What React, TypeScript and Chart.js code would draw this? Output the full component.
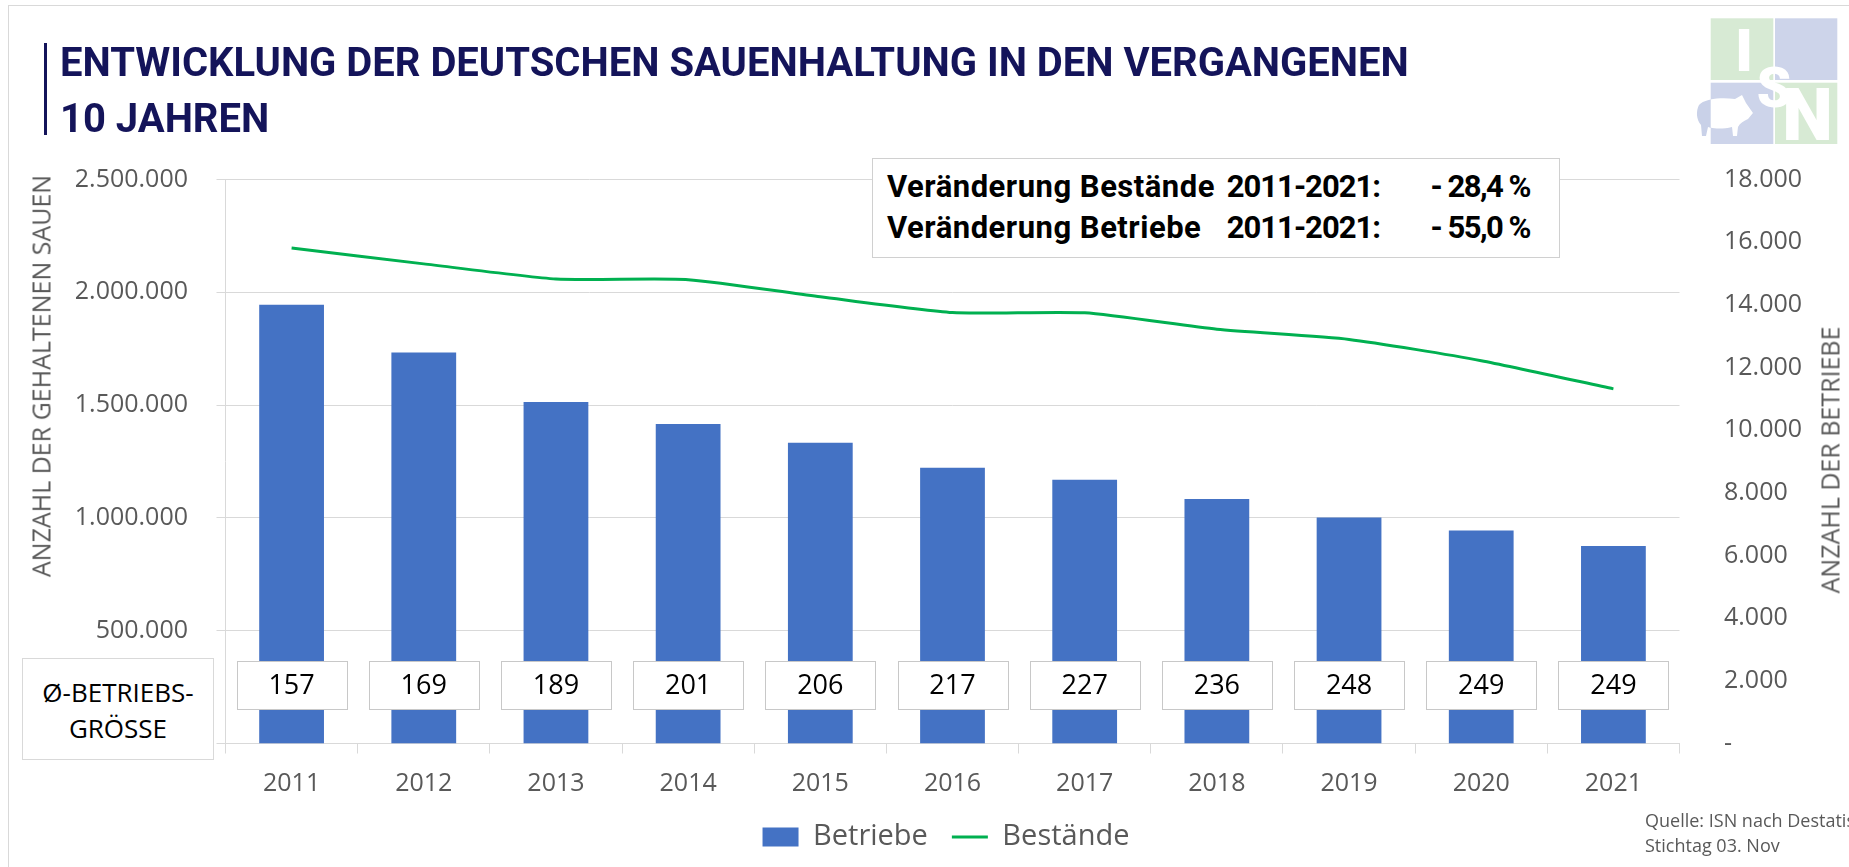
import React, { useEffect, useRef } from "react";
import { Chart, registerables } from "chart.js";

Chart.register(...registerables);

// ---------- data ----------
const YEARS = ["2011", "2012", "2013", "2014", "2015", "2016", "2017", "2018", "2019", "2020", "2021"];
const BETRIEBE = [14000, 12480, 10900, 10200, 9600, 8800, 8420, 7800, 7210, 6800, 6300];
const BESTAENDE = [2196000, 2126000, 2059000, 2056000, 1980000, 1910000, 1909000, 1836000, 1791000, 1697000, 1572000];
const AVG_SIZE = [157, 169, 189, 201, 206, 217, 227, 236, 248, 249, 249];
const SERIES_NAMES = ["Betriebe", "Bestände"];
const TITLE_LINES = ["ENTWICKLUNG DER DEUTSCHEN SAUENHALTUNG IN DEN VERGANGENEN", "10 JAHREN"];
const LEFT_AXIS_TITLE = "ANZAHL DER GEHALTENEN SAUEN";
const RIGHT_AXIS_TITLE = "ANZAHL DER BETRIEBE";
const CHANGE_ROWS = [
  ["Veränderung Bestände", "2011-2021:", "- 28,4 %"],
  ["Veränderung Betriebe", "2011-2021:", "- 55,0 %"],
];
const SIZE_LABEL = ["Ø-BETRIEBS-", "GRÖSSE"];
const SOURCE_LINES = ["Quelle: ISN nach Destatis", "Stichtag 03. Nov"];
const LEFT_MAX = 2500000;
const LEFT_STEP = 500000;
const RIGHT_MAX = 18000;
const RIGHT_STEP = 2000;
const LABEL_LEVEL = 258000; // left-axis level where the average-size boxes sit

const fmt = (v: number) =>
  v === 0 ? "-" : Math.round(v).toString().replace(/\B(?=(\d{3})+(?!\d))/g, ".");

const GRID = "#d9d9d9";
const TICK = "#595959";
const NAVY = "#14145A";

const sizeLabelPlugin = {
  id: "sizeLabels",
  afterDatasetsDraw(chart: any) {
    const { ctx } = chart;
    const xs = chart.scales.x;
    const ys = chart.scales.y;
    const yc = ys.getPixelForValue(LABEL_LEVEL);
    ctx.save();
    ctx.font = "27px 'Open Sans'";
    ctx.textAlign = "center";
    ctx.textBaseline = "middle";
    AVG_SIZE.forEach((v, i) => {
      const xc = xs.getPixelForValue(i);
      const w = 110;
      const h = 48;
      const l = Math.round(xc - w / 2) + 0.5;
      const t = Math.round(yc - h / 2) + 0.5;
      ctx.fillStyle = "#ffffff";
      ctx.fillRect(l, t, w, h);
      ctx.strokeStyle = "#c8c8c8";
      ctx.lineWidth = 1;
      ctx.strokeRect(l, t, w, h);
      ctx.fillStyle = "#000000";
      ctx.fillText(String(v), xc, yc + 1);
    });
    ctx.restore();
  },
};

export default function App() {
  const ref = useRef<HTMLCanvasElement | null>(null);

  useEffect(() => {
    if (!ref.current) return;
    Chart.defaults.font.family = "'Open Sans', sans-serif";
    const chart = new Chart(ref.current, {
      type: "bar",
      data: {
        labels: YEARS,
        datasets: [
          {
            type: "bar",
            label: SERIES_NAMES[0],
            data: BETRIEBE,
            yAxisID: "y1",
            backgroundColor: "#4472C4",
            borderWidth: 0,
            barPercentage: 0.49,
            categoryPercentage: 1,
            pointStyle: "rect",
          } as any,
          {
            type: "line",
            label: SERIES_NAMES[1],
            data: BESTAENDE,
            yAxisID: "y",
            borderColor: "#00B050",
            backgroundColor: "#00B050",
            borderWidth: 3,
            pointRadius: 0,
            pointStyle: "line",
            tension: 0.2,
            fill: false,
          } as any,
        ],
      },
      options: {
        responsive: false,
        animation: false,
        layout: { padding: { left: 60, right: 17, top: 179.5, bottom: 5.5 } },
        plugins: {
          legend: {
            position: "bottom",
            labels: {
              usePointStyle: true,
              pointStyleWidth: 36,
              boxHeight: 19,
              padding: 24,
              color: TICK,
              font: { size: 29 },
            },
          },
          tooltip: { enabled: false },
        },
        scales: {
          x: {
            grid: { drawOnChartArea: false, color: GRID, tickLength: 10, offset: true },
            border: { color: GRID },
            ticks: { padding: 15, color: TICK, font: { size: 25 } },
            afterFit: (s: any) => {
              s.height = 55;
            },
          },
          y: {
            position: "left",
            min: 0,
            max: LEFT_MAX,
            ticks: {
              stepSize: LEFT_STEP,
              callback: (v: any) => fmt(Number(v)),
              padding: 28.5,
              color: TICK,
              font: { size: 25 },
            },
            grid: { color: GRID, tickLength: 9 },
            border: { color: GRID },
            afterFit: (s: any) => {
              s.width = 165.5;
            },
          },
          y1: {
            position: "right",
            min: 0,
            max: RIGHT_MAX,
            ticks: {
              stepSize: RIGHT_STEP,
              callback: (v: any) => fmt(Number(v)),
              padding: 36.5,
              color: TICK,
              font: { size: 25 },
            },
            grid: { display: false },
            border: { display: false },
            afterFit: (s: any) => {
              s.width = 152.5;
            },
          },
        },
      } as any,
      plugins: [sizeLabelPlugin],
    });
    return () => chart.destroy();
  }, []);

  const abs = (o: React.CSSProperties): React.CSSProperties => ({ position: "absolute", ...o });
  const boxFont: React.CSSProperties = {
    fontFamily: "Roboto, sans-serif",
    fontWeight: 700,
    fontSize: 31,
    lineHeight: "41px",
    color: "#000",
    whiteSpace: "nowrap",
  };

  return (
    <div
      style={{
        position: "fixed",
        left: 0,
        top: 0,
        width: 1849,
        height: 867,
        overflow: "hidden",
        background: "#ffffff",
        fontFamily: "'Open Sans', sans-serif",
      }}
    >
      {/* frame */}
      <div style={abs({ left: 8, top: 5, width: 1900, height: 900, borderLeft: "1px solid #d9d9d9", borderTop: "1px solid #d9d9d9" })} />
      <canvas ref={ref} width={1849} height={867} style={abs({ left: 0, top: 0, width: 1849, height: 867 })} />

      {/* title */}
      <div style={abs({ left: 44, top: 43, width: 3, height: 92, background: NAVY })} />
      <div
        style={abs({
          left: 60,
          top: 35,
          fontFamily: "Roboto, sans-serif",
          fontWeight: 700,
          fontSize: 40,
          lineHeight: "56px",
          color: NAVY,
          whiteSpace: "nowrap",
        })}
      >
        {TITLE_LINES.map((t) => (
          <div key={t}>{t}</div>
        ))}
      </div>

      {/* change box */}
      <div style={abs({ left: 872, top: 158, width: 688, height: 100, background: "#fff", border: "1px solid #d0d0d0", boxSizing: "border-box" })} />
      {CHANGE_ROWS.map((r, i) => (
        <React.Fragment key={r[0]}>
          <div style={abs({ left: 887, top: 166 + i * 41, letterSpacing: "0.5px", ...boxFont })}>{r[0]}</div>
          <div style={abs({ left: 1180, width: 200, top: 166 + i * 41, textAlign: "right", letterSpacing: "-1px", ...boxFont })}>{r[1]}</div>
          <div style={abs({ left: 1330, width: 200, top: 166 + i * 41, textAlign: "right", letterSpacing: "-1.5px", ...boxFont })}>{r[2]}</div>
        </React.Fragment>
      ))}

      {/* axis titles */}
      <div style={abs({ left: 40.5, top: 375.5, transform: "translate(-50%, -50%) rotate(-90deg)", fontSize: 25, lineHeight: "25px", color: TICK, whiteSpace: "nowrap" })}>
        {LEFT_AXIS_TITLE}
      </div>
      <div style={abs({ left: 1830, top: 459.5, transform: "translate(-50%, -50%) rotate(-90deg)", fontSize: 25, lineHeight: "25px", color: TICK, whiteSpace: "nowrap" })}>
        {RIGHT_AXIS_TITLE}
      </div>

      {/* average size box */}
      <div style={abs({ left: 22, top: 658, width: 192, height: 102, background: "#fff", border: "1px solid #d9d9d9", boxSizing: "border-box" })} />
      <div style={abs({ left: 22, top: 673.7, width: 192, textAlign: "center", fontSize: 26, lineHeight: "36px", color: "#000" })}>
        {SIZE_LABEL.map((t) => (
          <div key={t}>{t}</div>
        ))}
      </div>

      {/* source */}
      <div style={abs({ left: 1645, top: 808.4, fontSize: 18, lineHeight: "25px", color: TICK, whiteSpace: "nowrap" })}>
        {SOURCE_LINES.map((t) => (
          <div key={t}>{t}</div>
        ))}
      </div>

      {/* logo */}
      <svg style={abs({ left: 1690, top: 15 })} width={159} height={135} viewBox="0 0 159 135">
        <defs>
          <clipPath id="blsq">
            <rect x={20.7} y={67.7} width={62.6} height={61.3} />
          </clipPath>
        </defs>
        <rect x={20.7} y={3.3} width={62.6} height={61.7} fill="#D7EAD4" />
        <rect x={85} y={3.3} width={62.3} height={61.7} fill="#CDD4EA" />
        <rect x={20.7} y={67.7} width={62.6} height={61.3} fill="#CDD4EA" />
        <rect x={85} y={67.7} width={62.3} height={61.3} fill="#D7EAD4" />
        <path
          d="M 4 84 L 9 90 C 14 84 30 82 45 84 L 52 80 L 56 88 L 63 98 L 58 104 C 54 106 50 108 48 112 L 47 121 L 43 121 L 42 112 C 34 114 24 114 18 112 L 16 121 L 12 121 L 11 110 C 6 104 6 96 9 90 Z"
          fill="#C9D1E8"
        />
        <path
          d="M 4 84 L 9 90 C 14 84 30 82 45 84 L 52 80 L 56 88 L 63 98 L 58 104 C 54 106 50 108 48 112 L 47 121 L 43 121 L 42 112 C 34 114 24 114 18 112 L 16 121 L 12 121 L 11 110 C 6 104 6 96 9 90 Z"
          fill="#ffffff"
          clipPath="url(#blsq)"
        />
        <text x={54} y={56} fill="#ffffff" fontFamily="Roboto, sans-serif" fontWeight={900} fontSize={60} textAnchor="middle">I</text>
        <text x={84} y={92} fill="#ffffff" fontFamily="Roboto, sans-serif" fontWeight={900} fontSize={55} textAnchor="middle">S</text>
        <text x={117.5} y={125} fill="#ffffff" fontFamily="Roboto, sans-serif" fontWeight={900} fontSize={72} textAnchor="middle">N</text>
      </svg>
    </div>
  );
}
